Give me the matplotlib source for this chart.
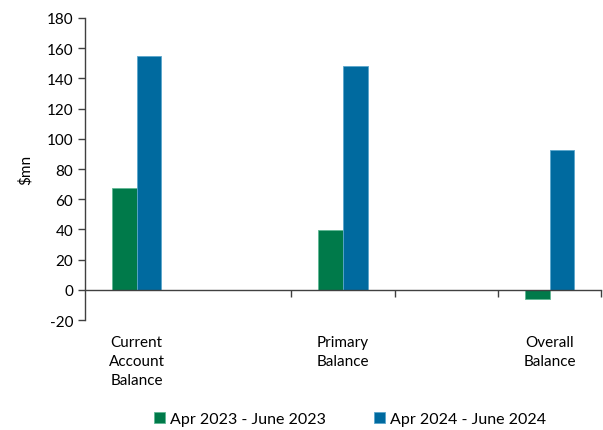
import numpy as np
import matplotlib.pyplot as plt

plt.rcParams['font.family'] = ['Lato', 'DejaVu Sans']
plt.rcParams['axes.unicode_minus'] = False

categories = ["Current\nAccount\nBalance", "", "Primary\nBalance", "", "Overall\nBalance"]
apr_2023 = [67.5, np.nan, 39.5, np.nan, -6]
apr_2024 = [155, np.nan, 148, np.nan, 92.5]
series_names = ["Apr 2023 - June 2023", "Apr 2024 - June 2024"]

green = '#007a4a'
blue = '#006a9f'
axis_col = '#404040'

fig = plt.figure(figsize=(6.03, 4.31), dpi=100)
ax = fig.add_axes([0.141, 0.255, 0.856, 0.701])

x = np.arange(len(categories))
w = 0.24
ax.bar(x - w / 2, apr_2023, w, color=green, edgecolor='#5fb894', linewidth=0.6, label=series_names[0], zorder=2)
ax.bar(x + w / 2, apr_2024, w, color=blue, edgecolor='#5aa6cc', linewidth=0.6, label=series_names[1], zorder=2)

ax.set_xlim(-0.5, len(categories) - 0.5)
ax.set_ylim(-20, 180)
ax.set_yticks(np.arange(-20, 181, 20))
ax.tick_params(axis='y', labelsize=11, colors='black', length=5, width=1, color=axis_col)

# x axis sits at zero, ticks at category boundaries
ax.spines['bottom'].set_position(('data', 0))
ax.spines['top'].set_visible(False)
ax.spines['right'].set_visible(False)
for s in ['left', 'bottom']:
    ax.spines[s].set_color(axis_col)
    ax.spines[s].set_linewidth(1)
ax.set_xticks(x[1:] + 0.5)
ax.set_xticklabels([])
ax.tick_params(axis='x', length=5, width=1, color=axis_col, direction='out')

for xi, lab in zip(x, categories):
    if lab:
        ax.text(xi, -0.05, lab, transform=ax.get_xaxis_transform(), ha='center', va='top',
                fontsize=11, linespacing=1.45)

ax.set_ylabel('$mn', fontsize=11, labelpad=10)

fig.legend(loc='lower center', bbox_to_anchor=(0.58, -0.025), ncol=2, frameon=False, fontsize=11.5,
           handlelength=0.7, handleheight=0.7, handletextpad=0.3, columnspacing=3.0)

fig.savefig('out.png', dpi=100)
